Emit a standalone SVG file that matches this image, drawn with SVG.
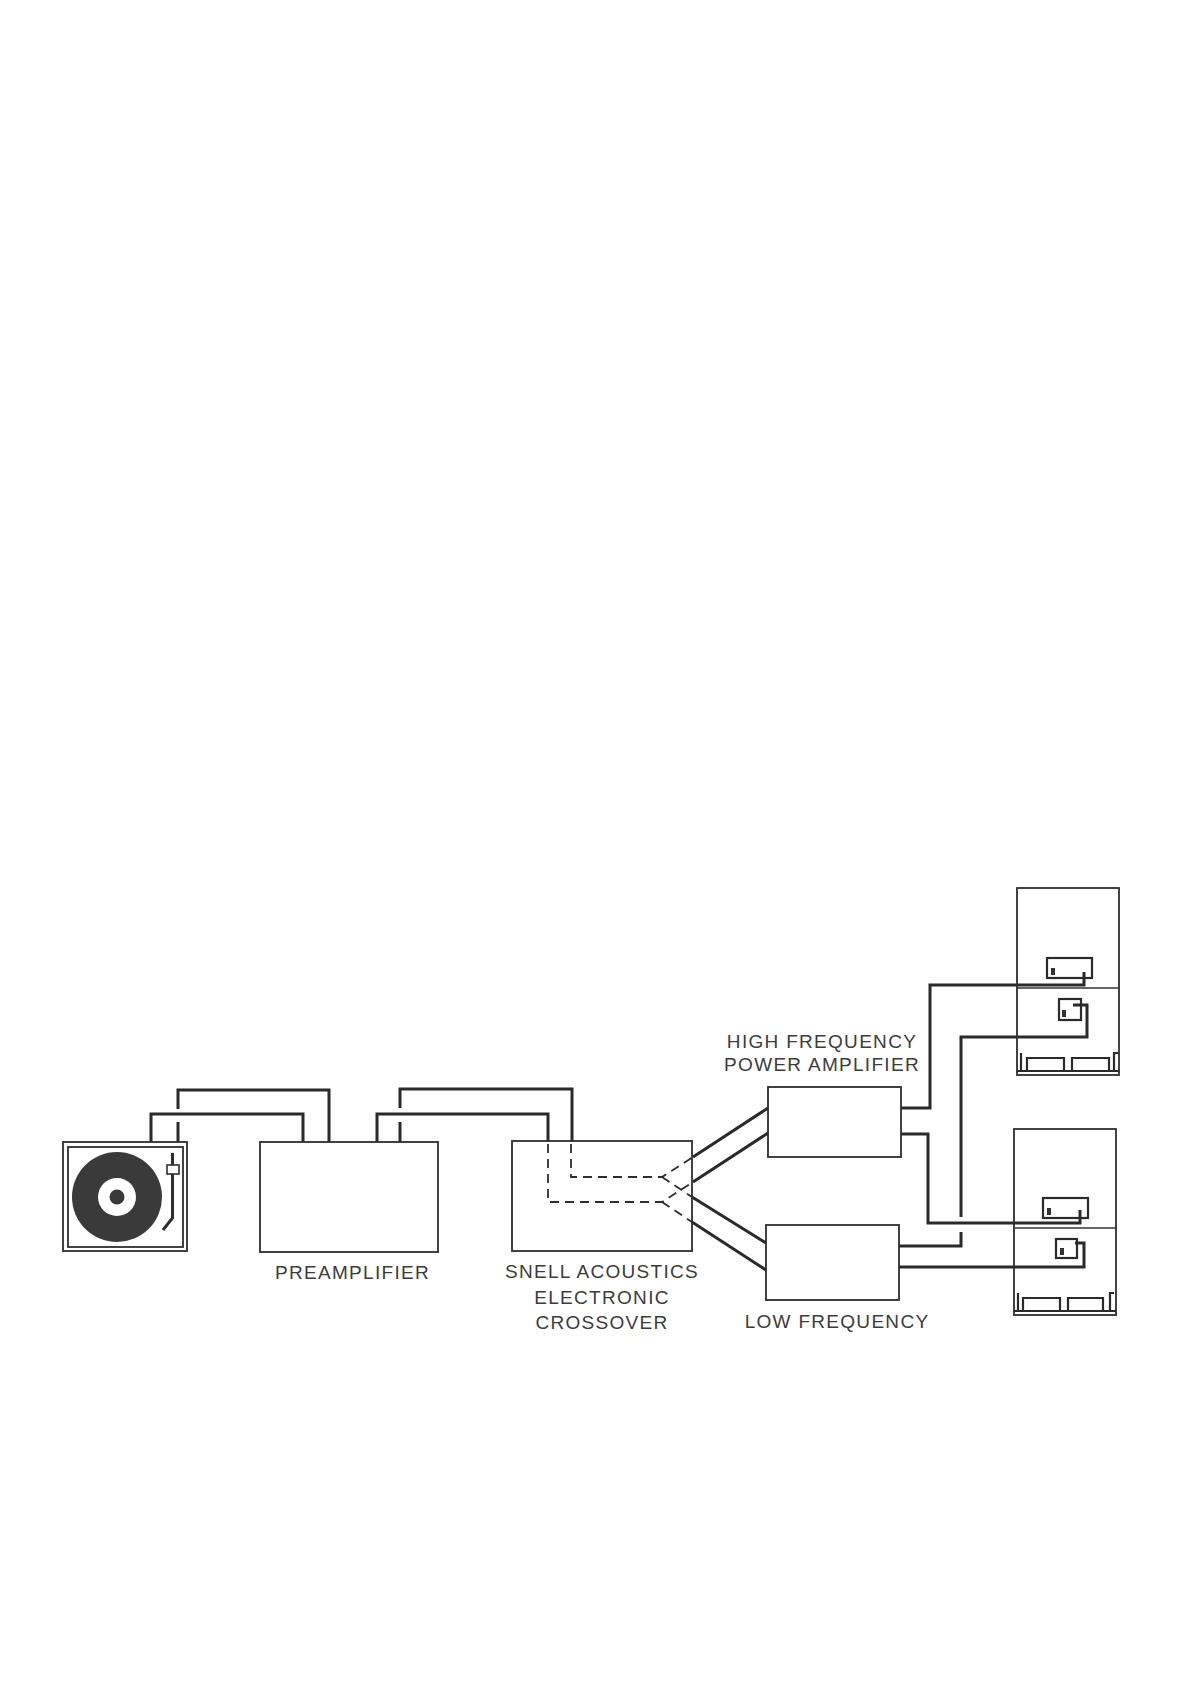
<svg xmlns="http://www.w3.org/2000/svg" width="1190" height="1684" viewBox="0 0 1190 1684">
<style>
.box{fill:none;stroke:#2e2e2e;stroke-width:1.8}
.thin{fill:none;stroke:#333;stroke-width:1.4}
.wire{fill:none;stroke:#2a2a2a;stroke-width:3;stroke-linejoin:miter}
.sw{fill:none;stroke:#2a2a2a;stroke-width:2.2}
.dash{fill:none;stroke:#2e2e2e;stroke-width:1.8;stroke-dasharray:9 6}
.term{fill:#333}
text{font-family:"Liberation Sans",Arial,sans-serif;font-size:19px;letter-spacing:1.3px;fill:#3c3c3c;text-anchor:middle}
</style>
<rect width="1190" height="1684" fill="#fff"/>
<g id="connectors">
<path class="wire" d="M178 1142V1122M178 1109V1090H329V1142"/>
<path class="wire" d="M151 1142V1114H303V1142"/>
<path class="wire" d="M400 1142V1122M400 1108V1089H572V1141"/>
<path class="wire" d="M377 1142V1114H548V1141"/>
<path class="dash" d="M571 1144V1177H662L693 1157"/>
<path class="dash" d="M548 1144V1202H662L693 1182"/>
<path class="dash" d="M662 1177L692 1197"/>
<path class="dash" d="M662 1202L692 1222"/>
<path class="wire" d="M693 1157L768 1108"/>
<path class="wire" d="M693 1182L768 1133"/>
<path class="wire" d="M692 1197L766 1243"/>
<path class="wire" d="M692 1222L766 1270"/>
<path class="wire" d="M901 1108H930V985H1084V972"/>
<path class="wire" d="M901 1134H928V1223H1080V1210"/>
<path class="wire" d="M899 1246H961V1232M961 1217V1037H1087V1005H1073"/>
<path class="wire" d="M899 1267H1084V1243H1075"/>
</g>
<g id="turntable">
<rect class="box" x="63" y="1142" width="124" height="109"/>
<rect class="box" x="68" y="1147" width="115" height="100"/>
<circle cx="117" cy="1197" r="45" fill="#3a3a3a"/>
<circle cx="117" cy="1197" r="19" fill="#fff"/>
<circle cx="117" cy="1197" r="7.5" fill="#3a3a3a"/>
<path fill="none" stroke="#2e2e2e" stroke-width="3" d="M172.500 1153V1218L163 1230"/>
<rect x="167" y="1165" width="12" height="9" fill="#fff" stroke="#2e2e2e" stroke-width="1.6"/>
</g>
<g id="preamplifier">
<rect class="box" x="260" y="1142" width="178" height="110"/>
<text x="352.500" y="1279">PREAMPLIFIER</text>
</g>
<g id="crossover">
<rect class="box" x="512" y="1141" width="180" height="110"/>
<text x="602" y="1278">SNELL ACOUSTICS</text>
<text x="602" y="1304">ELECTRONIC</text>
<text x="602" y="1329">CROSSOVER</text>
</g>
<g id="hf-amplifier">
<rect class="box" x="768" y="1087" width="133" height="70"/>
<text x="822" y="1048">HIGH FREQUENCY</text>
<text x="822" y="1071">POWER AMPLIFIER</text>
</g>
<g id="lf-amplifier">
<rect class="box" x="766" y="1225" width="133" height="75"/>
<text x="837" y="1328">LOW FREQUENCY</text>
</g>
<g id="speaker-top">
<rect class="box" x="1017" y="888" width="102" height="187"/>
<path class="thin" d="M1017 988H1119"/>
<rect class="sw" x="1047" y="958" width="45" height="20"/>
<rect class="term" x="1051" y="968" width="4" height="7"/>
<rect class="sw" x="1059" y="999" width="22" height="21"/>
<rect class="term" x="1062" y="1010" width="4" height="7"/>
<path class="sw" d="M1017 1071H1119"/>
<path class="sw" d="M1027 1071V1058H1064V1071M1072 1071V1058H1109V1071"/>
<path class="sw" d="M1021 1071V1053M1114 1071V1053H1118"/>
</g>
<g id="speaker-bottom">
<rect class="box" x="1014" y="1129" width="102" height="186"/>
<path class="thin" d="M1014 1228H1116"/>
<rect class="sw" x="1043" y="1198" width="45" height="20"/>
<rect class="term" x="1047" y="1208" width="4" height="7"/>
<rect class="sw" x="1056" y="1239" width="21" height="19"/>
<rect class="term" x="1060" y="1248" width="4" height="7"/>
<path class="sw" d="M1014 1311H1116"/>
<path class="sw" d="M1023 1311V1298H1060V1311M1068 1311V1298H1103V1311"/>
<path class="sw" d="M1018 1311V1293M1110 1311V1293H1114"/>
</g>
</svg>
